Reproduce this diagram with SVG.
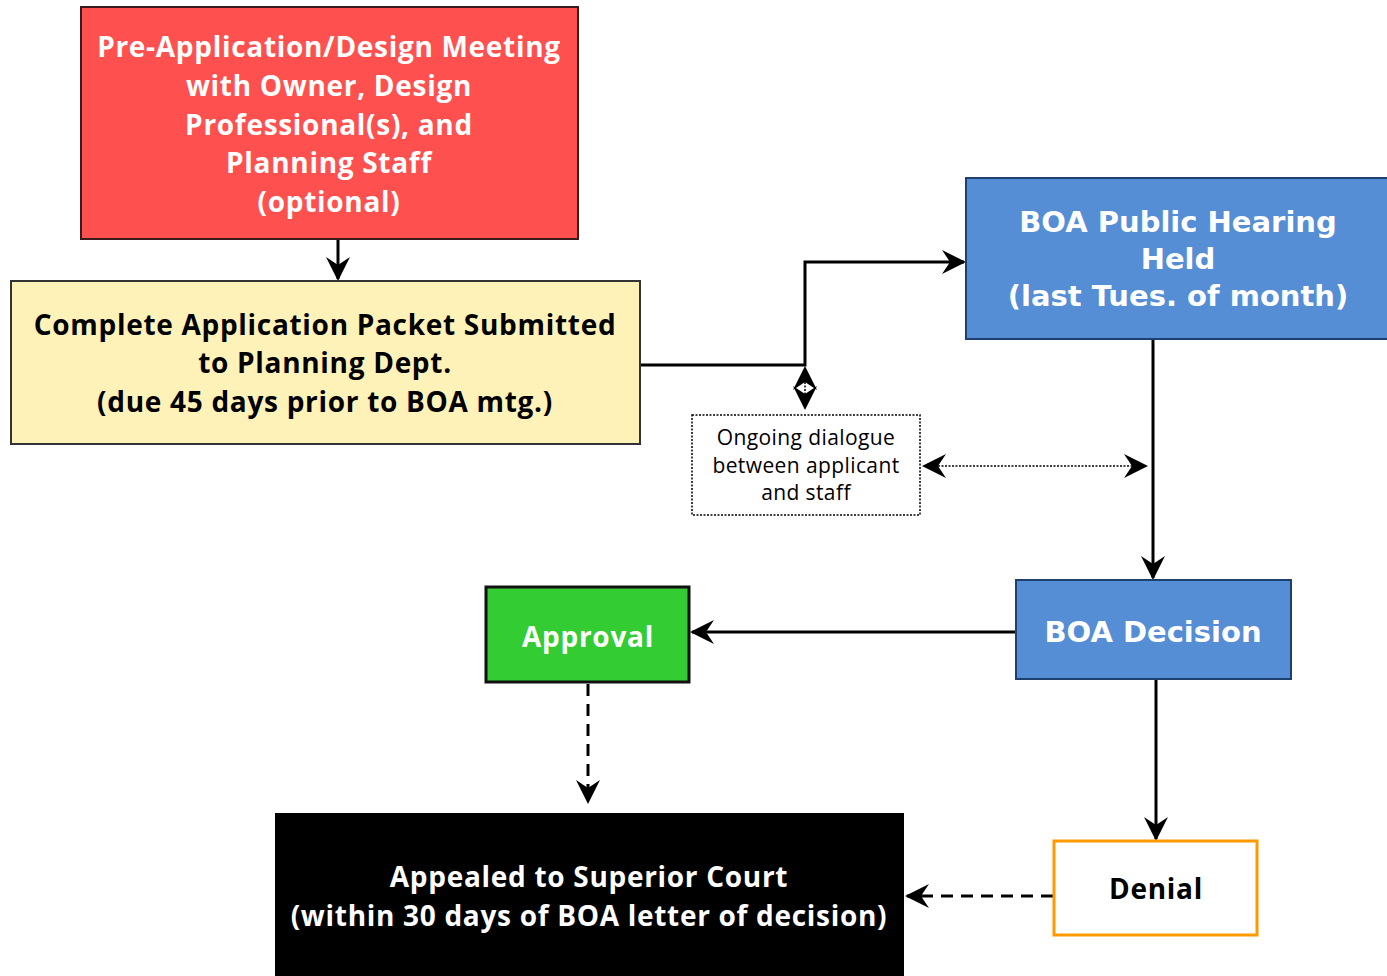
<svg xmlns="http://www.w3.org/2000/svg" width="1387" height="976" viewBox="0 0 1387 976">
<style>
.t{font-family:"Open Sans","Noto Sans",sans-serif;font-weight:bold;text-anchor:middle;font-size:28px;letter-spacing:0.7px}
.v{font-family:"DejaVu Sans","Liberation Sans",sans-serif;font-weight:bold;text-anchor:middle;fill:#fff;font-size:29px}
.d{font-family:"Open Sans","Noto Sans",sans-serif;font-size:21px;letter-spacing:0.4px;text-anchor:middle}
.w{fill:#fff}
.ln{fill:none;stroke:#000;stroke-width:3}
.dash{fill:none;stroke:#000;stroke-width:3;stroke-dasharray:12 8}
.dot{fill:none;stroke:#000;stroke-width:1.5;stroke-dasharray:2 1.5}
</style>
<defs>
<marker id="ahb" viewBox="0 0 12 12" refX="11" refY="6" markerWidth="24" markerHeight="24" markerUnits="userSpaceOnUse" orient="auto">
<path d="M0,0 L12,6 L0,12 L4,6 z" fill="#000"/>
</marker>
<marker id="ahs" viewBox="0 0 12 12" refX="1" refY="6" markerWidth="24" markerHeight="24" markerUnits="userSpaceOnUse" orient="auto">
<path d="M12,0 L0,6 L12,12 L8,6 z" fill="#000"/>
</marker>
</defs>

<g id="connectors">
<path class="ln" d="M338,240 V279" marker-end="url(#ahb)"/>
<path class="ln" d="M641,365 H805 V262 H964" marker-end="url(#ahb)"/>
<path class="dot" d="M805,368 V408" marker-start="url(#ahs)" marker-end="url(#ahb)"/>
<path class="dot" d="M924,466 H1146" marker-start="url(#ahs)" marker-end="url(#ahb)"/>
<path class="ln" d="M1153,340 V578" marker-end="url(#ahb)"/>
<path class="ln" d="M1015,632 H692" marker-end="url(#ahb)"/>
<path class="dash" d="M588,684 V802" marker-end="url(#ahb)"/>
<path class="ln" d="M1156,680 V839" marker-end="url(#ahb)"/>
<path class="dash" d="M1053,896 H907" marker-end="url(#ahb)"/>
</g>

<g id="node-preapp">
<rect x="81" y="7" width="497" height="232" fill="#FF5050" stroke="#3a1a1a" stroke-width="2"/>
<text class="t w" x="329" y="57">Pre-Application/Design Meeting</text>
<text class="t w" x="329" y="96">with Owner, Design</text>
<text class="t w" x="329" y="135">Professional(s), and</text>
<text class="t w" x="329" y="173">Planning Staff</text>
<text class="t w" x="329" y="212">(optional)</text>
</g>

<g id="node-application">
<rect x="11" y="281" width="629" height="163" fill="#FFF2B8" stroke="#333" stroke-width="2"/>
<text class="t" x="325" y="335">Complete Application Packet Submitted</text>
<text class="t" x="325" y="373">to Planning Dept.</text>
<text class="t" x="325" y="412">(due 45 days prior to BOA mtg.)</text>
</g>

<g id="node-dialogue">
<rect x="692" y="415" width="228" height="100" fill="#fff" stroke="#000" stroke-width="1.5" stroke-dasharray="2 1.5"/>
<text class="d" x="806" y="445">Ongoing dialogue</text>
<text class="d" x="806" y="473">between applicant</text>
<text class="d" x="806" y="500">and staff</text>
</g>

<g id="node-hearing">
<rect x="966" y="178" width="430" height="161" fill="#558ED5" stroke="#1f3f6f" stroke-width="2"/>
<text class="v" x="1178" y="232">BOA Public Hearing</text>
<text class="v" x="1178" y="269">Held</text>
<text class="v" x="1178" y="306">(last Tues. of month)</text>
</g>

<g id="node-decision">
<rect x="1016" y="580" width="275" height="99" fill="#558ED5" stroke="#1f3f6f" stroke-width="2"/>
<text class="v" x="1153" y="642">BOA Decision</text>
</g>

<g id="node-approval">
<rect x="486" y="587" width="203" height="95" fill="#33CC33" stroke="#111" stroke-width="3"/>
<text class="t w" x="588" y="647">Approval</text>
</g>

<g id="node-denial">
<rect x="1054" y="841" width="203" height="94" fill="#fff" stroke="#FF9900" stroke-width="3"/>
<text class="t" x="1156" y="899">Denial</text>
</g>

<g id="node-appeal">
<rect x="275" y="813" width="629" height="170" fill="#000"/>
<text class="t w" x="589" y="887">Appealed to Superior Court</text>
<text class="t w" x="589" y="926">(within 30 days of BOA letter of decision)</text>
</g>
</svg>
